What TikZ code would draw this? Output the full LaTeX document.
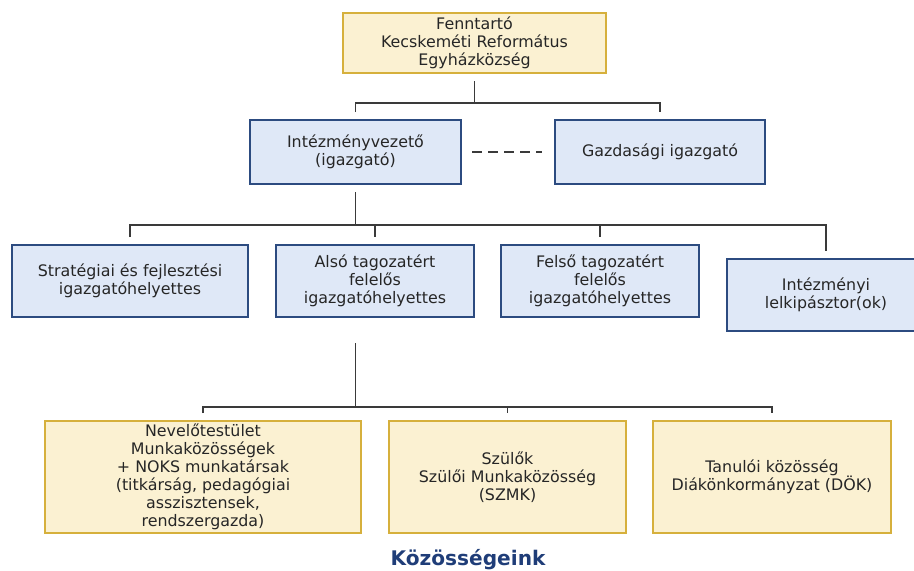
\documentclass[tikz,border=0pt]{standalone}
\usepackage{fontspec}
\setmainfont{DejaVu Sans}
\usetikzlibrary{positioning}
\definecolor{sarga}{HTML}{FBF1D2}
\definecolor{arany}{HTML}{D6B03C}
\definecolor{kek}{HTML}{DFE8F7}
\definecolor{sotetkek}{HTML}{2C4B80}
\definecolor{vonal}{HTML}{3A3A3A}
\definecolor{cimkek}{HTML}{1F3D78}

\begin{document}
\begin{tikzpicture}[x=0.75pt,y=-0.75pt,
  box/.style={rectangle,line width=1.5pt,align=center,inner sep=2pt,
    font=\fontsize{11.9}{13.5}\selectfont,text=black!85},
  yel/.style={box,draw=arany,fill=sarga},
  blu/.style={box,draw=sotetkek,fill=kek},
  line/.style={draw=vonal,line width=1.1pt,shorten <=5.25pt,shorten >=5.25pt}]
  \clip (0,0) rectangle (914,571);
  \node[yel,minimum width=197.25pt,minimum height=45pt] (fenn) at (474.5,43) {Fenntartó\\Kecskeméti Református\\Egyházközség};
  \node[blu,minimum width=158.25pt,minimum height=48pt] (vez) at (355.5,152) {Intézményvezető\\(igazgató)};
  \node[blu,minimum width=157.5pt,minimum height=48pt] (gazd) at (660,152) {Gazdasági igazgató};
  \node[blu,minimum width=177pt,minimum height=54pt] (strat) at (130,281) {Stratégiai és fejlesztési\\igazgatóhelyettes};
  \node[blu,minimum width=148.5pt,minimum height=54pt] (also) at (375,281) {Alsó tagozatért\\felelős\\igazgatóhelyettes};
  \node[blu,minimum width=148.5pt,minimum height=54pt] (felso) at (600,281) {Felső tagozatért\\felelős\\igazgatóhelyettes};
  \node[blu,minimum width=148.5pt,minimum height=54pt] (lelki) at (826,295) {Intézményi\\lelkipásztor(ok)};
  \node[yel,minimum width=237pt,minimum height=84pt] (nevelo) at (203,477) {Nevelőtestület\\Munkaközösségek\\+ NOKS munkatársak\\(titkárság, pedagógiai\\asszisztensek,\\rendszergazda)};
  \node[yel,minimum width=177.75pt,minimum height=84pt] (szulo) at (507.5,477) {Szülők\\Szülői Munkaközösség\\(SZMK)};
  \node[yel,minimum width=178.5pt,minimum height=84pt] (tanulo) at (772,477) {Tanulói közösség\\Diákönkormányzat (DÖK)};
  \node[font=\bfseries\fontsize{15.1}{17}\selectfont,text=cimkek] (cim) at (468,560) {Közösségeink};
  % fenntarto -> vezetok
  \coordinate (b1) at (474.5,103);
  \draw[line,shorten >=0pt] (fenn) -- (b1);
  \draw[line] (vez.north) |- (b1) -| (gazd.north);
  \draw[line,dash pattern=on 7.5pt off 4.5pt,shorten <=7.5pt,shorten >=9pt] (vez) -- (gazd);
  % igazgato -> helyettesek
  \coordinate (b2) at (355.5,225);
  \draw[line,shorten >=0pt] (vez) -- (b2);
  \draw[line] (strat.north) |- (b2) -| (lelki.north);
  \draw[line,shorten <=0pt] (also.north |- b2) -- (also.north);
  \draw[line,shorten <=0pt] (felso.north |- b2) -- (felso.north);
  % kozossegek
  \coordinate (trunk) at (355.5,343);
  \coordinate (b3) at (355.5,407);
  \draw[line,shorten <=0pt,shorten >=0pt] (trunk) -- (b3);
  \draw[line] (nevelo.north) |- (b3) -| (tanulo.north);
  \draw[line,shorten <=0pt] (szulo.north |- b3) -- (szulo.north);
\end{tikzpicture}
\end{document}
